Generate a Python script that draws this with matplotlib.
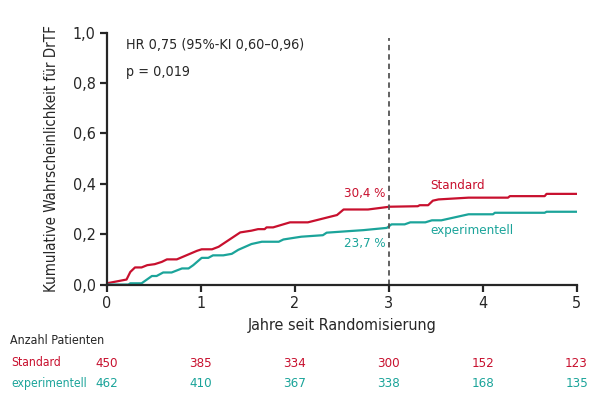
import os
import matplotlib
matplotlib.use("Agg")
import matplotlib.pyplot as plt
from matplotlib import font_manager

# look for some narrow / condensed face, the reference uses one
narrow = None
for f in font_manager.fontManager.ttflist:
    base = os.path.basename(f.fname).lower()
    if ("narrow" in base or "condensed" in base) and "bold" not in base and "italic" not in base \
            and "oblique" not in base and "light" not in base and "medium" not in base:
        narrow = f
        break

if narrow is not None:
    plt.rcParams["font.family"] = [narrow.name, "DejaVu Sans"]
    plt.rcParams["font.stretch"] = narrow.stretch
else:
    plt.rcParams["font.family"] = ["Roboto", "DejaVu Sans"]

red = "#c8102e"
teal = "#1ba49a"
txt = "#262626"

# curve points (years, cumulative probability)
std_x = [0, 0.21, 0.25, 0.30, 0.37, 0.43, 0.51, 0.585, 0.64, 0.745, 0.96, 1.01, 1.12, 1.19,
         1.42, 1.54, 1.61, 1.68, 1.70, 1.77, 1.95, 2.14, 2.45, 2.52, 2.78, 3.01, 3.31, 3.33,
         3.42, 3.47, 3.53, 3.85, 4.27, 4.29, 4.66, 4.68, 5.0]
std_y = [0.005, 0.02, 0.05, 0.068, 0.068, 0.077, 0.081, 0.09, 0.10, 0.10, 0.134, 0.14, 0.14, 0.15,
         0.207, 0.214, 0.22, 0.22, 0.227, 0.227, 0.247, 0.247, 0.276, 0.298, 0.298, 0.309, 0.311, 0.315,
         0.315, 0.333, 0.338, 0.345, 0.345, 0.351, 0.351, 0.36, 0.36]

exp_x = [0, 0.23, 0.25, 0.37, 0.48, 0.53, 0.60, 0.69, 0.80, 0.87, 0.92, 1.01, 1.08, 1.13, 1.24,
         1.33, 1.40, 1.54, 1.65, 1.83, 1.88, 2.0, 2.07, 2.30, 2.34, 2.57, 2.73, 2.98, 3.03, 3.17,
         3.23, 3.39, 3.46, 3.56, 3.85, 4.11, 4.13, 4.66, 4.68, 5.0]
exp_y = [0, 0, 0.005, 0.005, 0.034, 0.034, 0.048, 0.048, 0.064, 0.064, 0.077, 0.106, 0.106, 0.116, 0.116,
         0.122, 0.138, 0.161, 0.170, 0.170, 0.179, 0.186, 0.19, 0.196, 0.206, 0.212, 0.216, 0.225, 0.239, 0.239,
         0.247, 0.247, 0.255, 0.255, 0.279, 0.279, 0.285, 0.285, 0.289, 0.289]

years = [0, 1, 2, 3, 4, 5]
n_std = [450, 385, 334, 300, 152, 123]
n_exp = [462, 410, 367, 338, 168, 135]

fs = 9.5 if narrow is not None else 9

fig = plt.figure(figsize=(6, 3.98), dpi=100)
ax = fig.add_axes([0.178, 0.285, 0.783, 0.633])

ax.plot(std_x, std_y, color=red, lw=1.6)
ax.plot(exp_x, exp_y, color=teal, lw=1.6)
ax.plot([3, 3], [0, 0.98], color="#555555", lw=1.3, linestyle=(0, (3, 2.2)))

ax.set_xlim(0, 5)
ax.set_ylim(0, 1)
ax.set_xticks(years)
ax.set_yticks([0, 0.2, 0.4, 0.6, 0.8, 1.0])
ax.set_yticklabels(["0,0", "0,2", "0,4", "0,6", "0,8", "1,0"])
for s in ["top", "right"]:
    ax.spines[s].set_visible(False)
for s in ["left", "bottom"]:
    ax.spines[s].set_linewidth(1.6)
    ax.spines[s].set_color(txt)
ax.tick_params(length=5, width=1.6, color=txt, labelsize=11.5, labelcolor=txt, pad=3)

ax.set_xlabel("Jahre seit Randomisierung", fontsize=11.5, color=txt, labelpad=5)
ax.set_ylabel("Kumulative Wahrscheinlichkeit für DrTF", fontsize=10.8, color=txt, labelpad=10)

ax.text(0.206, 0.95, "HR 0,75 (95%-KI 0,60–0,96)", fontsize=10.3, color=txt, va="center")
ax.text(0.206, 0.843, "p = 0,019", fontsize=10.3, color=txt, va="center")

ax.text(2.97, 0.363, "30,4 %", fontsize=fs, color=red, ha="right", va="center")
ax.text(2.97, 0.165, "23,7 %", fontsize=fs, color=teal, ha="right", va="center")
ax.text(3.44, 0.395, "Standard", fontsize=fs, color=red, ha="left", va="center")
ax.text(3.44, 0.216, "experimentell", fontsize=fs, color=teal, ha="left", va="center")

# number at risk table
trans = ax.get_xaxis_transform()
fig.text(10 / 600, 1 - 340 / 398, "Anzahl Patienten", fontsize=fs - 0.6, color=txt, va="center")
fig.text(11 / 600, 1 - 363 / 398, "Standard", fontsize=fs - 0.8, color=red, va="center")
fig.text(11 / 600, 1 - 383 / 398, "experimentell", fontsize=fs - 0.8, color=teal, va="center")
row1 = -(363 - 284.5) / 252
row2 = -(383 - 284.5) / 252
for x, a, b in zip(years, n_std, n_exp):
    ax.text(x, row1, str(a), transform=trans, fontsize=fs, color=red, ha="center", va="center")
    ax.text(x, row2, str(b), transform=trans, fontsize=fs, color=teal, ha="center", va="center")

fig.savefig("out.png", dpi=100)
